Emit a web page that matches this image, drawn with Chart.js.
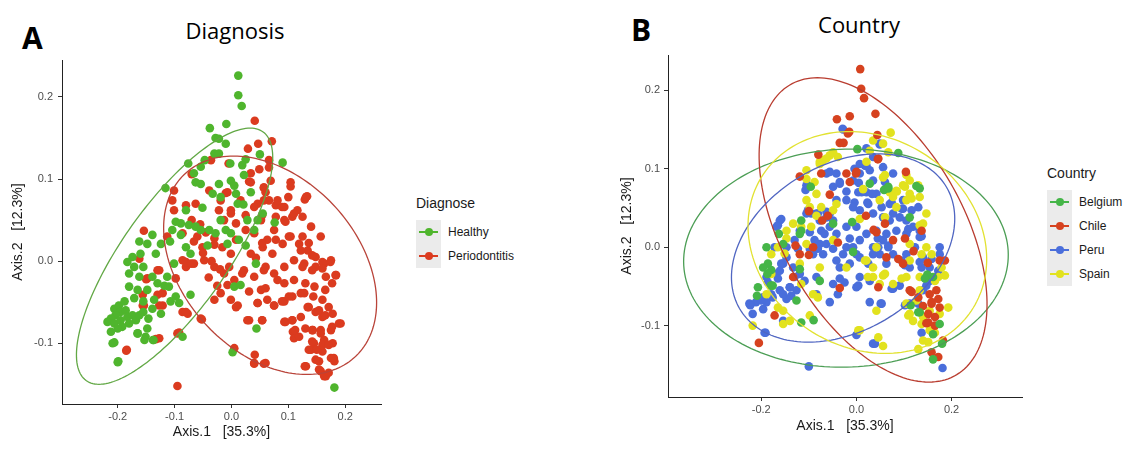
<!DOCTYPE html>
<html lang="en">
<head>
<meta charset="UTF-8">
<title>PCoA by Diagnosis and Country</title>
<script src="https://cdn.jsdelivr.net/npm/chart.js@4.4.1/dist/chart.umd.min.js"></script>
<style>
    body {
        margin: 0;
        background: #fff;
        width: 1129px;
        height: 450px;
        position: relative;
        overflow: hidden;
        font-family: 'Liberation Sans', Arial, sans-serif;
    }
    .box { position: absolute; top: 0; height: 450px; }
    #boxA { left: 0; width: 400px; }
    #boxB { left: 600px; width: 440px; }
    .letter {
        position: absolute;
        font-family: 'Open Sans', sans-serif;
        font-weight: 700;
        font-size: 30px;
        line-height: 30px;
        color: #000;
    }
    .title {
        position: absolute;
        width: 200px;
        text-align: center;
        font-family: 'Open Sans', sans-serif;
        font-size: 22px;
        line-height: 22px;
        color: #000;
    }
    .legend { position: absolute; font-size: 12px; color: #1a1a1a; }
    .legend .head { font-size: 14px; height: 24px; line-height: 24px; margin-bottom: 5px; }
    .legend .row { height: 24px; display: flex; align-items: center; }
    .key { position: relative; width: 25px; height: 24px; background: #ebebeb; margin-right: 7px; }
    .key i { position: absolute; left: 3px; top: 11px; width: 19px; height: 1.5px; }
    .key b { position: absolute; left: 8.5px; top: 8px; width: 8px; height: 8px; border-radius: 50%; }
</style>
</head>
<body>

<div class="letter" style="left:22px; top:23px;">A</div>
<div class="title" style="left:135px; top:19px;">Diagnosis</div>
<div class="box" id="boxA"><canvas id="chartA"></canvas></div>
<div class="legend" id="legendA" style="left:416px; top:191px;"></div>

<div class="letter" style="left:631px; top:15px;">B</div>
<div class="title" style="left:759px; top:13px;">Country</div>
<div class="box" id="boxB"><canvas id="chartB"></canvas></div>
<div class="legend" id="legendB" style="left:1047px; top:161px;"></div>

<script>
// ---------- panel A : diagnosis ----------
var diagnoseLabels = ['Healthy', 'Periodontitis'];
var diagnoseColors = ['#4fb52d', '#db3b1f'];
var diagnoseEllipseColors = ['#62a845', '#b9443a'];

var healthy = [
    [0.012,0.226],[0.012,0.202],[0.018,0.189],[-0.038,0.162],[-0.009,0.167],[-0.028,0.150],[-0.022,0.149],[-0.010,0.143],
    [0.090,0.120],[0.050,0.130],[0.025,0.124],[0.019,0.117],[-0.002,0.119],[-0.030,0.131],[-0.022,0.131],[-0.047,0.123],
    [-0.076,0.119],[-0.054,0.115],[-0.066,0.107],[-0.063,0.096],[-0.054,0.094],[-0.116,0.089],[-0.022,0.094],[-0.001,0.098],
    [0.005,0.092],[-0.033,0.082],[-0.019,0.078],[0.008,0.082],[0.034,0.084],[0.022,0.105],[0.011,0.070],[0.021,0.069],
    [-0.051,0.065],[-0.080,0.062],[-0.098,0.048],[-0.089,0.046],[-0.075,0.044],[-0.063,0.042],[-0.054,0.038],[-0.039,0.038],
    [-0.104,0.038],[-0.089,0.032],[-0.010,0.038],[-0.001,0.034],[0.013,0.026],[0.025,0.019],[0.040,0.038],[0.046,0.050],
    [0.055,0.058],[0.076,0.047],[0.028,0.050],[-0.108,0.024],[-0.124,0.021],[-0.139,0.032],[-0.148,0.021],[-0.162,0.024],
    [-0.133,0.009],[-0.160,0.009],[-0.174,0.005],[-0.183,-0.001],[-0.171,-0.007],[-0.155,-0.007],[-0.180,-0.015],[-0.162,-0.019],
    [-0.139,-0.019],[-0.118,-0.030],[-0.110,-0.031],[-0.180,-0.031],[-0.165,-0.035],[-0.148,-0.035],[-0.171,-0.045],[-0.155,-0.049],
    [-0.136,-0.047],[-0.107,-0.049],[-0.098,-0.043],[-0.072,-0.041],[-0.092,-0.051],[-0.206,-0.058],[-0.198,-0.054],[-0.188,-0.049],
    [-0.195,-0.062],[-0.186,-0.060],[-0.204,-0.066],[-0.212,-0.070],[-0.218,-0.074],[-0.206,-0.076],[-0.195,-0.072],[-0.183,-0.068],
    [-0.174,-0.066],[-0.168,-0.072],[-0.180,-0.076],[-0.192,-0.080],[-0.200,-0.082],[-0.212,-0.086],[-0.162,-0.066],[-0.155,-0.062],
    [-0.146,-0.070],[-0.165,-0.088],[-0.148,-0.082],[-0.151,-0.092],[-0.137,-0.096],[-0.206,-0.099],[-0.199,-0.122],[-0.086,-0.092],
    [-0.139,-0.058],[-0.124,-0.064],[0.005,-0.031],[0.016,-0.029],[0.044,-0.082],[0.002,-0.111],[0.181,-0.154],[0.043,-0.003],
    [-0.007,0.021],[-0.019,0.050],[-0.028,0.034],[-0.042,0.019],[-0.080,0.017],[-0.072,0.009],[-0.101,-0.003],[-0.113,-0.019],
    [-0.130,-0.027],[-0.209,-0.100],[-0.200,-0.123],[-0.165,-0.088],[-0.153,-0.096],[-0.138,-0.096]
];

var periodontitis = [
    [0.041,0.171],[0.047,0.143],[0.071,0.146],[0.066,0.123],[0.066,0.114],[0.049,0.112],[0.034,0.107],[0.031,0.097],
    [-0.005,0.119],[0.104,0.096],[0.104,0.091],[0.129,0.075],[0.133,0.079],[0.057,0.089],[0.060,0.084],[0.100,0.078],
    [0.046,0.070],[0.066,0.074],[0.078,0.068],[0.089,0.066],[0.116,0.062],[0.107,0.054],[0.095,0.048],[0.078,0.054],
    [0.054,0.056],[0.025,0.056],[-0.001,0.058],[-0.010,0.083],[0.029,0.137],[-0.036,0.123],[-0.070,0.106],[-0.101,0.086],
    [-0.104,0.074],[-0.101,0.062],[-0.080,0.068],[-0.063,0.070],[-0.039,0.086],[-0.007,0.084],[-0.019,0.074],[-0.022,0.062],
    [-0.001,0.062],[0.016,0.074],[0.040,0.066],[0.034,0.096],[0.057,0.090],[0.069,0.098],[0.131,0.078],[0.057,0.074],
    [0.081,0.074],[0.093,0.066],[0.110,0.058],[0.125,0.054],[0.140,0.042],[0.157,0.030],[0.093,0.050],[0.075,0.038],
    [0.063,0.026],[0.052,0.050],[0.040,0.034],[0.025,0.038],[0.008,0.046],[-0.013,0.050],[-0.154,0.037],[-0.113,0.030],
    [-0.086,0.034],[-0.066,0.024],[-0.051,0.017],[-0.030,0.028],[-0.016,0.017],[-0.001,0.009],[0.034,0.009],[0.055,0.017],
    [0.072,0.009],[0.090,0.021],[0.104,0.030],[0.119,0.021],[0.134,0.013],[0.148,0.005],[0.163,-0.003],[0.175,0.001],
    [0.184,-0.017],[0.166,-0.019],[0.148,-0.007],[0.128,-0.003],[0.110,0.001],[0.093,-0.007],[0.075,-0.015],[0.057,-0.011],
    [0.040,-0.019],[0.022,-0.011],[0.005,-0.023],[-0.013,-0.015],[-0.030,-0.007],[-0.048,0.001],[-0.066,-0.003],[-0.086,0.001],
    [-0.080,-0.007],[-0.130,-0.011],[-0.148,-0.021],[-0.130,-0.041],[-0.154,-0.054],[-0.121,-0.054],[-0.086,-0.062],[-0.077,-0.064],
    [-0.054,-0.070],[-0.030,-0.047],[-0.019,-0.039],[-0.001,-0.047],[0.011,-0.054],[0.031,-0.037],[0.052,-0.035],[0.063,-0.047],
    [0.046,-0.051],[0.031,-0.072],[0.054,-0.072],[0.075,-0.054],[0.093,-0.049],[0.107,-0.043],[0.122,-0.039],[0.093,-0.074],
    [0.107,-0.072],[0.122,-0.068],[0.134,-0.056],[0.148,-0.062],[0.160,-0.068],[0.178,-0.064],[0.192,-0.076],[0.175,-0.084],
    [0.157,-0.088],[0.143,-0.084],[0.108,-0.086],[0.110,-0.094],[0.145,-0.100],[0.163,-0.096],[0.178,-0.100],[0.140,-0.108],
    [0.160,-0.110],[0.175,-0.118],[0.181,-0.122],[0.154,-0.122],[0.131,-0.128],[0.157,-0.134],[0.166,-0.140],[0.040,-0.124],
    [0.060,-0.124],[0.005,-0.106],[-0.092,-0.087],[-0.133,-0.095],[-0.184,-0.108],[-0.095,-0.152],[0.008,0.026],[0.054,0.022],
    [0.078,0.026],[0.101,0.030],[0.125,0.030],[0.136,0.022],[0.122,0.013],[0.142,0.007],[0.160,-0.001],[0.174,-0.001],
    [0.183,-0.017],[0.160,-0.009],[0.142,-0.011],[0.125,-0.007],[0.110,-0.023],[0.130,-0.027],[0.146,-0.031],[0.165,-0.035],
    [0.177,-0.027],[0.128,-0.039],[0.144,-0.043],[0.160,-0.047],[0.171,-0.056],[0.136,-0.056],[0.154,-0.060],[0.165,-0.066],
    [0.189,-0.076],[0.177,-0.080],[0.157,-0.084],[0.142,-0.084],[0.130,-0.082],[0.112,-0.084],[0.095,-0.074],[0.107,-0.072],
    [0.075,-0.054],[0.089,-0.049],[0.101,-0.043],[0.060,-0.033],[0.054,-0.072],[0.028,-0.072],[0.046,-0.051],[0.008,-0.056],
    [-0.007,-0.029],[-0.004,-0.007],[0.019,-0.015],[0.043,0.004],[0.060,-0.007],[0.081,-0.023],[0.093,-0.027],[0.119,-0.092],
    [0.142,-0.098],[0.160,-0.102],[0.171,-0.102],[0.150,-0.108],[0.136,-0.108],[0.148,-0.120],[0.180,-0.118],[0.129,-0.128],
    [0.154,-0.132],[0.163,-0.140],[0.171,-0.136],[0.041,-0.114],[0.040,-0.125],[0.057,-0.125],[-0.162,0.003],[-0.150,-0.022],
    [-0.127,-0.011],[-0.156,-0.041],[-0.156,-0.054],[-0.127,-0.054],[-0.121,-0.039],[-0.127,-0.094],[-0.095,-0.088],[-0.080,-0.062],
    [-0.052,-0.071],[-0.185,-0.109],[-0.098,-0.021],[-0.080,-0.001],[-0.071,-0.003],[-0.060,0.030],[-0.045,0.035],[-0.030,0.020],
    [-0.050,0.010],[-0.035,0.000],[-0.020,-0.010],[-0.040,-0.020],[-0.025,-0.030],[-0.055,0.045],[-0.070,0.050]
];

// ellipse = [centre x, centre y, axis 1 (x, y), axis 2 (x, y)], in data units
var healthyEllipse = [-0.100, 0.006, 0.133, 0.156, 0.110, 0.000];
var periodontitisEllipse = [0.068, -0.005, -0.064, 0.133, 0.176, 0.000];

var xTicksA = [-0.2, -0.1, 0.0, 0.1, 0.2];
var yTicksA = [-0.1, 0.0, 0.1, 0.2];

// ---------- panel B : country ----------
var countryLabels = ['Belgium', 'Chile', 'Peru', 'Spain'];
var countryColors = ['#45b548', '#d6421f', '#4a6edb', '#e2e21e'];
var countryEllipseColors = ['#4c9e55', '#b93c2f', '#5066c2', '#e2e232'];

var belgium = [
    [0.088,0.120],[0.002,0.125],[0.058,0.073],[0.067,0.077],[0.126,0.078],[-0.096,0.077],[-0.049,0.030],[-0.116,0.021],
    [-0.163,0.017],[-0.189,0.000],[-0.186,-0.021],[-0.207,-0.051],[-0.180,-0.049],[-0.077,-0.043],[-0.007,-0.006],[0.112,0.038],
    [0.149,-0.035],[0.133,-0.083],[0.175,-0.098],[0.161,-0.111],[0.180,-0.123],[0.161,-0.143],[-0.116,-0.096],[-0.009,0.032],
    [-0.179,-0.029],[0.114,-0.074],[-0.187,-0.034],[-0.176,-0.049],[-0.209,-0.062],[-0.090,-0.093],[-0.119,-0.028],[-0.116,0.034],
    [0.130,-0.083],[0.144,-0.040],[0.133,0.075],[0.067,0.075],[-0.154,0.004],[-0.196,-0.026],[-0.119,0.017],[-0.126,-0.068],
    [0.161,-0.038],[0.028,0.081]
];

var chile = [
    [0.008,0.227],[0.010,0.202],[0.016,0.190],[0.040,0.170],[-0.041,0.163],[-0.014,0.167],[-0.015,0.147],[0.044,0.143],
    [-0.035,0.133],[-0.027,0.133],[-0.080,0.118],[0.046,0.113],[-0.119,0.090],[-0.074,0.094],[-0.021,0.094],[-0.001,0.094],
    [-0.014,0.083],[-0.056,0.067],[0.104,0.096],[-0.100,0.046],[-0.072,0.034],[-0.039,0.006],[-0.128,0.002],[0.042,0.019],
    [0.036,0.022],[0.102,0.011],[0.137,0.021],[0.088,-0.015],[0.098,-0.021],[0.175,-0.017],[0.186,-0.017],[0.046,-0.051],
    [-0.035,-0.052],[-0.133,-0.038],[0.112,-0.055],[0.130,-0.064],[0.154,-0.060],[0.168,-0.055],[0.172,-0.066],[0.158,-0.072],
    [0.175,-0.077],[0.151,-0.085],[0.165,-0.089],[0.147,-0.097],[-0.172,-0.087],[-0.205,-0.122],[0.158,-0.134],[0.172,-0.140],
    [0.182,-0.119],[0.063,-0.013],[0.077,0.009],[-0.091,0.000],[-0.119,-0.009],[-0.018,0.145],[0.000,0.096],[0.045,0.112],
    [0.116,-0.057],[0.151,-0.096],[0.158,-0.070],[0.060,0.030],[0.120,-0.005],[0.150,-0.020],[0.140,-0.075],[0.165,-0.100],
    [-0.060,0.040],[0.020,0.040],[-0.100,-0.010]
];

var peru = [
    [-0.029,0.151],[0.021,0.126],[0.049,0.132],[-0.004,0.100],[0.021,0.104],[0.035,0.085],[0.060,0.083],[-0.035,0.081],
    [-0.063,0.094],[-0.102,0.079],[0.011,0.070],[0.021,0.070],[0.042,0.068],[-0.004,0.057],[0.025,0.055],[0.035,0.043],
    [0.070,0.055],[0.077,0.043],[0.098,0.049],[0.116,0.047],[-0.105,0.043],[-0.084,0.043],[-0.056,0.043],[-0.161,0.034],
    [-0.168,0.026],[-0.119,0.021],[-0.098,0.019],[-0.074,0.021],[-0.056,0.026],[-0.042,0.017],[-0.021,0.026],[0.000,0.026],
    [-0.014,0.011],[0.021,0.017],[0.042,0.021],[0.063,0.017],[0.084,0.021],[0.105,0.017],[0.119,0.026],[0.133,0.013],
    [0.123,0.000],[0.175,0.000],[0.137,-0.026],[0.112,-0.026],[0.095,-0.017],[0.063,-0.021],[0.049,-0.009],[0.035,0.000],
    [0.007,0.009],[0.000,-0.009],[-0.028,-0.009],[-0.042,-0.017],[-0.035,-0.026],[-0.014,-0.021],[-0.077,0.004],[-0.091,-0.009],
    [-0.070,-0.009],[-0.130,0.009],[-0.147,0.000],[-0.172,0.000],[-0.154,-0.021],[-0.133,-0.026],[-0.168,-0.034],[-0.189,-0.038],
    [-0.140,-0.051],[-0.161,-0.055],[-0.179,-0.060],[-0.196,-0.064],[-0.211,-0.070],[-0.225,-0.072],[-0.218,-0.085],[-0.196,-0.079],
    [-0.147,-0.066],[-0.126,-0.055],[-0.154,-0.094],[-0.191,-0.109],[-0.056,-0.070],[-0.035,-0.040],[0.000,-0.051],[0.028,-0.070],
    [0.053,-0.072],[0.074,-0.053],[0.091,-0.049],[0.112,-0.072],[0.130,-0.072],[0.137,-0.109],[0.175,-0.009],[0.154,-0.043],
    [0.000,-0.112],[0.039,-0.123],[0.181,-0.154],[-0.100,-0.152],[-0.165,0.028],[-0.189,-0.070],[-0.223,-0.074],[-0.200,-0.068],
    [-0.176,-0.064],[-0.154,-0.060],[-0.137,-0.062],[-0.140,-0.051],[-0.165,-0.040],[-0.130,-0.038],[-0.119,-0.034],[-0.084,-0.060],
    [-0.039,-0.060],[-0.025,-0.045],[0.004,-0.049],[-0.098,-0.002],[-0.158,-0.021],[-0.123,-0.002],[-0.186,-0.045],[-0.193,-0.109],
    [0.049,0.131],[0.028,0.098],[0.033,0.068],[0.074,0.057],[0.023,0.057],[0.053,0.051],[0.095,0.049],[0.035,-0.123],
    [0.051,-0.072],[0.077,-0.053],[0.102,-0.074],[0.147,-0.049],[0.133,-0.019],[0.158,-0.015],[0.067,0.002],[0.045,0.011],
    [0.109,0.023],[0.137,0.014],[0.102,-0.023],[-0.028,0.150],[-0.056,0.096],[-0.105,0.079],[-0.107,0.073],[-0.035,0.083],
    [-0.021,0.071],[0.004,0.070],[-0.102,0.047],[-0.081,0.043],[-0.063,0.045],[-0.158,0.036],[0.018,0.104],[0.005,0.082],
    [-0.095,0.043],[-0.077,0.034],[-0.063,0.038],[-0.049,0.034],[-0.067,0.017],[-0.088,0.009],[-0.081,-0.002],[-0.063,0.004],
    [-0.049,-0.002],[-0.021,0.000],[-0.007,0.000],[0.007,-0.013],[0.025,-0.021],[0.035,-0.009],[0.046,0.000],[0.056,0.009],
    [0.067,0.000],[0.077,-0.009],[0.056,0.038],[0.070,0.034],[0.091,0.038],[0.105,0.034],[0.133,0.021],[-0.007,0.051],
    [0.007,0.047],[-0.021,0.060],[-0.042,0.060],[-0.049,0.077],[-0.007,0.085],[0.007,0.094],[-0.042,0.094],[0.007,0.106],
    [0.035,0.115],[0.056,0.102],[0.077,0.094],[0.098,0.060],[0.130,0.051],[-0.147,-0.013],[-0.161,-0.030],[-0.109,-0.043],
    [-0.084,-0.038],[-0.049,-0.047],[0.007,-0.038],[0.028,-0.043],[0.140,-0.055],[0.172,-0.030],[0.154,-0.026],[0.140,-0.013],
    [0.105,-0.009]
];

var spain = [
    [0.072,0.146],[0.028,0.123],[-0.039,0.115],[-0.049,0.121],[-0.070,0.111],[-0.077,0.106],[-0.105,0.087],[-0.105,0.060],
    [-0.098,0.051],[-0.042,0.055],[0.014,0.074],[0.056,0.089],[0.070,0.070],[0.084,0.072],[0.098,0.079],[0.130,0.079],
    [0.105,0.060],[0.140,0.030],[0.084,0.051],[0.060,0.038],[0.007,0.036],[-0.095,0.026],[-0.116,0.026],[-0.147,0.021],
    [-0.165,0.000],[-0.105,0.004],[-0.049,0.009],[0.018,-0.017],[0.042,0.000],[0.112,0.004],[0.147,0.000],[0.158,-0.009],
    [0.179,-0.026],[0.172,-0.038],[0.133,-0.038],[0.105,-0.038],[0.060,-0.034],[0.035,-0.038],[-0.091,-0.060],[-0.116,-0.047],
    [-0.179,-0.034],[-0.189,-0.060],[-0.165,-0.077],[-0.154,-0.098],[-0.140,-0.094],[-0.218,-0.100],[-0.098,-0.087],[0.007,-0.106],
    [0.042,-0.081],[0.046,-0.115],[0.056,-0.126],[0.105,-0.072],[0.112,-0.085],[0.119,-0.094],[0.140,-0.089],[0.154,-0.106],
    [0.140,-0.119],[0.130,-0.130],[0.193,-0.077],[0.175,-0.085],[0.067,0.121],[0.105,0.092],[0.102,0.077],[0.116,0.062],
    [0.085,0.071],[0.060,0.092],[0.021,0.109],[0.024,-0.038],[0.056,-0.036],[0.109,-0.087],[0.133,-0.083],[0.165,-0.109],
    [0.151,-0.121],[0.186,-0.036],[0.133,0.028],[0.095,-0.040],[-0.077,0.109],[-0.088,0.083],[-0.084,0.040],[-0.056,0.117],
    [-0.147,0.011],[-0.151,-0.008],[-0.154,-0.081],[-0.081,-0.064],[0.004,-0.106],[0.021,-0.017],[-0.084,0.068],[-0.074,0.051],
    [-0.133,0.030],[-0.179,-0.009],[-0.119,-0.021],[-0.077,-0.026],[-0.021,-0.026],[0.035,-0.026],[0.049,-0.047],[0.077,-0.047],
    [0.112,-0.017],[0.137,-0.009],[0.165,-0.043],[0.133,-0.055],[0.126,-0.068],[0.154,-0.081],[0.137,-0.098],[-0.049,0.047],
    [0.049,0.060],[0.077,0.064],[0.112,0.068],[0.112,0.085],[0.133,0.064],[0.147,0.043],[-0.063,0.113],[0.035,0.136],
    [0.056,0.132],[-0.105,0.098]
];

var belgiumEllipse = [-0.022, -0.014, 0.010, 0.139, 0.341, 0.000];
var chileEllipse = [0.035, 0.022, -0.117, 0.194, 0.209, 0.000];
var peruEllipse = [-0.028, -0.001, 0.073, 0.120, 0.223, 0.000];
var spainEllipse = [0.023, 0.006, -0.020, 0.141, 0.250, -0.010];

var xTicksB = [-0.2, 0.0, 0.2];
var yTicksB = [-0.1, 0.0, 0.1, 0.2];

var xTitle = 'Axis.1   [35.3%]';
var yTitle = 'Axis.2   [12.3%]';

// draws the confidence ellipses through the chart scales
var ellipsePlugin = {
    id: 'ellipses',
    afterDatasetsDraw: function(chart, args, opts) {
        var ctx = chart.ctx, xs = chart.scales.x, ys = chart.scales.y;
        ctx.save();
        opts.items.forEach(function(item) {
            var e = item.shape;
            ctx.beginPath();
            for (var i = 0; i <= 180; i++) {
                var t = i / 180 * 2 * Math.PI;
                var px = xs.getPixelForValue(e[0] + Math.cos(t) * e[2] + Math.sin(t) * e[4]);
                var py = ys.getPixelForValue(e[1] + Math.cos(t) * e[3] + Math.sin(t) * e[5]);
                if (i === 0) ctx.moveTo(px, py); else ctx.lineTo(px, py);
            }
            ctx.closePath();
            ctx.strokeStyle = item.color;
            ctx.lineWidth = 1.3;
            ctx.stroke();
        });
        ctx.restore();
    }
};

function toPoints(arr) {
    return arr.map(function(p) { return { x: p[0], y: p[1] }; });
}

function makeDatasets(labels, colors, series) {
    return series.map(function(s, i) {
        return {
            label: labels[i],
            data: toPoints(s),
            pointRadius: 4.3,
            pointBorderWidth: 0,
            pointBackgroundColor: colors[i],
            showLine: false
        };
    });
}

var tickFont = { family: "'Liberation Sans', Arial, sans-serif", size: 11 };
var titleFont = { family: "'Liberation Sans', Arial, sans-serif", size: 14 };

function makeOptions(p) {
    return {
        responsive: true,
        maintainAspectRatio: false,
        animation: false,
        events: [],
        layout: { padding: { left: 0, top: p.top, right: p.right, bottom: 0 } },
        plugins: {
            legend: { display: false },
            tooltip: { enabled: false },
            ellipses: { items: p.ellipses }
        },
        scales: {
            x: {
                type: 'linear',
                min: p.xMin,
                max: p.xMax,
                afterFit: function(s) { s.height = p.xHeight; },
                afterBuildTicks: function(s) { s.ticks = p.xTicks.map(function(v) { return { value: v }; }); },
                ticks: {
                    autoSkip: false, maxRotation: 0, padding: 2, color: '#4d4d4d', font: tickFont,
                    callback: function(v) { return v.toFixed(1); }
                },
                grid: { drawOnChartArea: false, tickLength: 4, color: '#333' },
                border: { color: '#222', width: 1 },
                title: { display: true, text: xTitle, color: '#1a1a1a', font: titleFont, padding: { top: 0, bottom: p.xTitlePad } }
            },
            y: {
                type: 'linear',
                min: p.yMin,
                max: p.yMax,
                afterFit: function(s) { s.width = p.yWidth; },
                afterBuildTicks: function(s) { s.ticks = p.yTicks.map(function(v) { return { value: v }; }); },
                ticks: {
                    autoSkip: false, padding: p.yTickPad, color: '#4d4d4d', font: tickFont,
                    callback: function(v) { return v.toFixed(1); }
                },
                grid: { drawOnChartArea: false, tickLength: 4, color: '#333' },
                border: { color: '#222', width: 1 },
                title: { display: true, text: yTitle, color: '#1a1a1a', font: titleFont, padding: { top: p.yTitlePad, bottom: 0 } }
            }
        }
    };
}

function buildLegend(id, title, labels, colors) {
    var el = document.getElementById(id);
    var html = '<div class="head">' + title + '</div>';
    labels.forEach(function(l, i) {
        html += '<div class="row"><span class="key"><i style="background:' + colors[i] + '"></i>' +
                '<b style="background:' + colors[i] + '"></b></span>' + l + '</div>';
    });
    el.innerHTML = html;
}

new Chart(document.getElementById('chartA'), {
    type: 'scatter',
    data: { datasets: makeDatasets(diagnoseLabels, diagnoseColors, [healthy, periodontitis]) },
    options: makeOptions({
        top: 60, right: 19, xHeight: 46, yWidth: 62, xTitlePad: 9, yTitlePad: 10, yTickPad: 5,
        xMin: -0.298, xMax: 0.263, yMin: -0.174, yMax: 0.245,
        xTicks: xTicksA, yTicks: yTicksA,
        ellipses: [
            { shape: healthyEllipse, color: diagnoseEllipseColors[0] },
            { shape: periodontitisEllipse, color: diagnoseEllipseColors[1] }
        ]
    }),
    plugins: [ellipsePlugin]
});

new Chart(document.getElementById('chartB'), {
    type: 'scatter',
    data: { datasets: makeDatasets(
        [countryLabels[0], countryLabels[1], countryLabels[3], countryLabels[2]],
        [countryColors[0], countryColors[1], countryColors[3], countryColors[2]],
        [belgium, chile, spain, peru]) },
    options: makeOptions({
        top: 55, right: 18, xHeight: 53, yWidth: 68, xTitlePad: 15, yTitlePad: 19, yTickPad: 4,
        xMin: -0.396, xMax: 0.348, yMin: -0.191, yMax: 0.245,
        xTicks: xTicksB, yTicks: yTicksB,
        ellipses: [
            { shape: belgiumEllipse, color: countryEllipseColors[0] },
            { shape: chileEllipse, color: countryEllipseColors[1] },
            { shape: peruEllipse, color: countryEllipseColors[2] },
            { shape: spainEllipse, color: countryEllipseColors[3] }
        ]
    }),
    plugins: [ellipsePlugin]
});

buildLegend('legendA', 'Diagnose', diagnoseLabels, diagnoseColors);
buildLegend('legendB', 'Country', countryLabels, countryColors);
</script>
</body>
</html>
